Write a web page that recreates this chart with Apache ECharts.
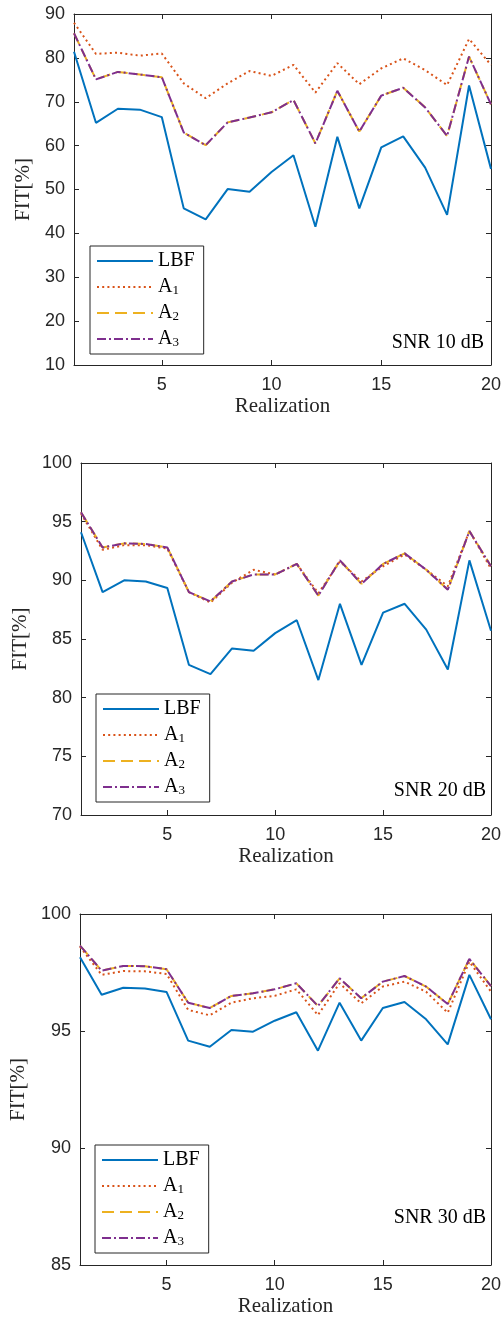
<!DOCTYPE html>
<html>
<head>
<meta charset="utf-8">
<script src="https://cdn.jsdelivr.net/npm/echarts@6/dist/echarts.min.js"></script>
<style>html,body{margin:0;padding:0;background:#fff;}#c{width:504px;height:1328px;}</style>
</head>
<body>
<div id="c"></div>
<script>
// ---------- data ----------
const realization = [1,2,3,4,5,6,7,8,9,10,11,12,13,14,15,16,17,18,19,20];
const xTicks = [5,10,15,20];
const seriesNames = ['LBF','A1','A2','A3'];
const panelTitles = ['SNR 10 dB','SNR 20 dB','SNR 30 dB'];

// SNR 10 dB
const lbf10 = [81.4,65.2,68.4,68.2,66.5,45.7,43.2,50.1,49.5,54.0,57.8,41.5,62.0,45.7,59.6,62.1,55.0,44.2,73.7,54.7];
const a1_10 = [88.0,80.9,81.2,80.5,81.0,74.2,70.8,74.2,77.0,75.9,78.4,72.1,78.8,74.0,77.6,79.9,77.2,73.8,84.3,78.4];
const a2_10 = [85.6,75.1,76.8,76.2,75.6,63.0,60.1,65.3,66.4,67.6,70.4,60.5,72.5,63.2,71.4,73.2,68.7,62.2,80.3,69.4];
const a3_10 = [85.6,75.1,76.8,76.2,75.6,63.0,60.1,65.3,66.4,67.6,70.4,60.5,72.5,63.2,71.4,73.2,68.7,62.2,80.3,69.4];
// SNR 20 dB
const lbf20 = [94.1,89.0,90.0,89.9,89.35,82.8,82.0,84.2,84.0,85.5,86.6,81.5,88.0,82.8,87.25,88.0,85.8,82.4,91.7,85.7];
const a1_20 = [95.7,92.6,93.0,93.0,92.7,89.0,88.1,89.8,90.9,90.5,91.4,88.9,91.6,89.9,91.2,92.2,90.9,89.5,94.2,91.0];
const a2_20 = [95.8,92.8,93.15,93.1,92.8,89.0,88.2,89.9,90.5,90.5,91.4,88.7,91.7,89.7,91.4,92.3,90.9,89.2,94.2,91.2];
const a3_20 = [95.8,92.8,93.15,93.1,92.8,89.0,88.2,89.9,90.5,90.5,91.4,88.7,91.7,89.7,91.4,92.3,90.9,89.2,94.2,91.2];
// SNR 30 dB
const lbf30 = [98.15,96.55,96.85,96.82,96.67,94.59,94.33,95.04,94.97,95.44,95.8,94.16,96.21,94.59,95.98,96.24,95.5,94.43,97.4,95.5];
const a1_30 = [98.6,97.4,97.56,97.55,97.44,95.9,95.67,96.21,96.4,96.5,96.78,95.68,97.04,96.18,96.9,97.11,96.68,95.78,97.96,96.68];
const a2_30 = [98.65,97.58,97.78,97.77,97.64,96.21,95.98,96.5,96.61,96.78,97.04,96.07,97.25,96.4,97.11,97.35,96.9,96.15,98.08,96.92];
const a3_30 = [98.65,97.58,97.78,97.77,97.64,96.21,95.98,96.5,96.61,96.78,97.04,96.07,97.25,96.4,97.11,97.35,96.9,96.15,98.08,96.92];

const yMin = [10,70,85], yMax = [90,100,100], yStep = [10,5,5];
const panelData = [[lbf10,a1_10,a2_10,a3_10],[lbf20,a1_20,a2_20,a3_20],[lbf30,a1_30,a2_30,a3_30]];

// ---------- layout / style ----------
const grids = [
  {left:74, right:12, top:14, height:351},
  {left:81, right:11, top:463, height:352},
  {left:80, right:11, top:914, height:351}
];
const yNameGap = [40,50,51];
const legendPos = [{left:90,top:246},{left:96,top:694},{left:95,top:1145}];
const snrPos = [{x:484,y:343},{x:486,y:791},{x:486,y:1218}];

const colors = ['#0072BD','#D95319','#EDB120','#7E2F8E'];
const dashes = ['solid',[2,3.2],[12,6],[9,3,2,3]];
const axisColor = '#262626';
const serif = '"Liberation Serif", "Times New Roman", serif';
const sans = '"Liberation Sans", Arial, Helvetica, sans-serif';

const xAxes = [], yAxes = [], series = [], legends = [], graphics = [];
grids.forEach((g, p) => {
  const lineCfg = {show:true, lineStyle:{color:axisColor, width:1}};
  const tickCfg = {show:true, inside:true, length:5, lineStyle:{color:axisColor, width:1}, customValues:xTicks};
  xAxes.push({
    type:'value', gridIndex:p, min:1, max:20, position:'bottom',
    axisLine:lineCfg, axisTick:tickCfg,
    axisLabel:{customValues:xTicks, color:axisColor, fontFamily:sans, fontSize:18, margin:11},
    splitLine:{show:false},
    name:'Realization', nameLocation:'middle', nameGap:31,
    nameTextStyle:{fontFamily:serif, fontSize:21, color:axisColor}
  });
  xAxes.push({
    type:'value', gridIndex:p, min:1, max:20, position:'top',
    axisLine:lineCfg, axisTick:tickCfg,
    axisLabel:{show:false}, splitLine:{show:false}
  });
  const yTick = {show:true, inside:true, length:5, lineStyle:{color:axisColor, width:1}};
  yAxes.push({
    type:'value', gridIndex:p, min:yMin[p], max:yMax[p], interval:yStep[p], position:'left',
    axisLine:lineCfg, axisTick:yTick,
    axisLabel:{color:axisColor, fontFamily:sans, fontSize:18, margin:9},
    splitLine:{show:false},
    name:'FIT[%]', nameLocation:'middle', nameGap:yNameGap[p],
    nameTextStyle:{fontFamily:serif, fontSize:21, color:axisColor}
  });
  yAxes.push({
    type:'value', gridIndex:p, min:yMin[p], max:yMax[p], interval:yStep[p], position:'right',
    axisLine:lineCfg, axisTick:yTick, axisLabel:{show:false}, splitLine:{show:false}
  });
  panelData[p].forEach((vals, k) => {
    series.push({
      type:'line', name:seriesNames[k], xAxisIndex:2*p, yAxisIndex:2*p,
      data: realization.map((x, i) => [x, vals[i]]),
      symbol:'none', showSymbol:false, animation:false, z:2+k,
      lineStyle:{color:colors[k], width:2, type:dashes[k]},
      itemStyle:{color:colors[k]}
    });
  });
  legends.push({
    orient:'vertical', left:legendPos[p].left, top:legendPos[p].top,
    data:seriesNames, itemWidth:56, itemHeight:12, itemGap:6,
    padding:[5,9,5,6], borderColor:'#262626', borderWidth:1, backgroundColor:'#fff',
    selectedMode:false,
    itemStyle:{opacity:0},
    formatter: n => n === 'LBF' ? '{n|LBF}' : '{n|A}{s|' + n.slice(1) + '}',
    textStyle:{
      rich:{
        n:{fontFamily:serif, fontSize:20, color:'#000', lineHeight:20},
        s:{fontFamily:serif, fontSize:13, color:'#000', lineHeight:8, verticalAlign:'bottom'}
      }
    }
  });
  graphics.push({
    type:'text', x:snrPos[p].x, y:snrPos[p].y, z:100,
    style:{text:panelTitles[p], fontFamily:serif, fontSize:20, fill:'#000', textAlign:'right', textVerticalAlign:'middle'}
  });
});

const chart = echarts.init(document.getElementById('c'), null, {renderer:'canvas'});
chart.setOption({
  animation:false,
  backgroundColor:'#fff',
  grid:grids,
  xAxis:xAxes, yAxis:yAxes, series:series, legend:legends, graphic:graphics
});
</script>
</body>
</html>
